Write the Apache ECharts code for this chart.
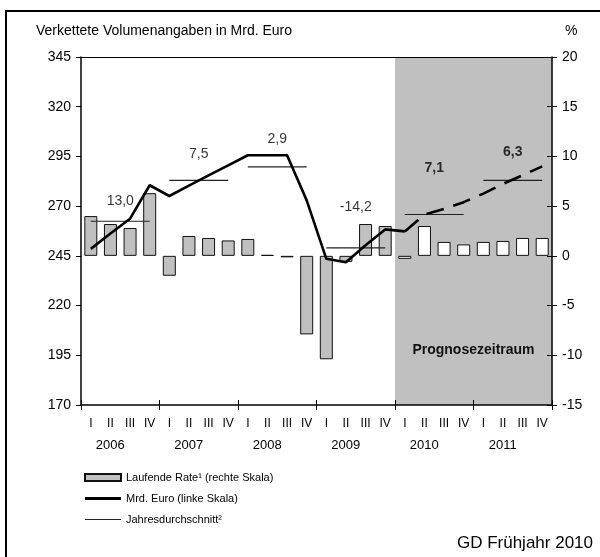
<!DOCTYPE html>
<html>
<head>
<meta charset="utf-8">
<script src="https://cdn.jsdelivr.net/npm/echarts@6/dist/echarts.min.js"></script>
<style>
  html, body { margin: 0; padding: 0; background: #fff; }
  #chart { width: 600px; height: 557px; }
</style>
</head>
<body>
<div id="chart"></div>
<script>
const years = ['2006', '2007', '2008', '2009', '2010', '2011'];
const quarters = ['I', 'II', 'III', 'IV'];
const quarterKeys = years.flatMap((y) => quarters.map((q) => y + ' ' + q));

// Laufende Rate in % (rechte Skala)
const rate = [4.0, 3.2, 2.8, 6.3, -2.0, 2.0, 1.8, 1.55, 1.7, 0.1, -0.15, -7.9,
  -10.4, -0.6, 3.2, 3.0, -0.3, 3.0, 1.4, 1.15, 1.4, 1.5, 1.8, 1.8];
// Mrd. Euro (linke Skala)
const volume = [248.5, 256.2, 263.7, 280.5, 275.1, 280.3, 285.5, 290.5, 295.6, 295.6, 295.6, 272.9,
  243.5, 241.8, 250.3, 258.3, 257.3, 265.8, 268.6, 272.0, 276.3, 281.2, 285.5, 290.0];
// Jahresdurchschnitt (Mrd. Euro) und Veränderung in %
const yearAvg = [262.4, 283.0, 289.7, 249.0, 265.8, 283.0];
const yearGrowth = [13.0, 7.5, 2.9, -14.2, 7.1, 6.3];
const forecastStart = 16; // 2010 I

// Abstand der Prozent-Beschriftung über der Jahreslinie (px)
const growthLift = [20, 26, 28, 41, 46, 28];

const FONT = '"Liberation Sans", Arial, sans-serif';
const chart = echarts.init(document.getElementById('chart'));

const fmt = (v) => v.toFixed(1).replace('.', ',');

const avgSeries = years.map((y, k) => ({
  type: 'line',
  name: 'Jahresdurchschnitt²',
  data: quarterKeys.map((_, i) => (Math.floor(i / 4) === k ? yearAvg[k] : '-')),
  symbol: 'none',
  itemStyle: { color: '#222' },
  lineStyle: { color: '#222', width: 1.2 },
  z: 3,
  silent: true,
}));

const option = {
  animation: false,
  textStyle: { fontFamily: FONT, color: '#000' },
  grid: { left: 81, right: 48, top: 57, bottom: 152 },
  legend: {
    orient: 'vertical',
    left: 79,
    top: 467,
    itemWidth: 36,
    itemHeight: 7,
    itemGap: 10,
    selectedMode: false,
    data: [
      { name: 'Laufende Rate¹ (rechte Skala)', icon: 'rect' },
      { name: 'Mrd. Euro (linke Skala)', icon: 'path://M0,0L36,0L36,3L0,3Z',
        itemStyle: { color: '#000', borderWidth: 0 } },
      { name: 'Jahresdurchschnitt²', icon: 'path://M0,0L36,0L36,1L0,1Z',
        itemStyle: { color: '#222', borderWidth: 0 } },
    ],
    textStyle: { fontSize: 11, color: '#000', fontFamily: FONT },
  },
  xAxis: [
    {
      type: 'category',
      data: quarterKeys,
      position: 'bottom',
      z: 5,
      axisLine: { onZero: false, lineStyle: { color: '#000', width: 1.5 } },
      axisTick: { show: false },
      axisLabel: { interval: 0, fontSize: 12, margin: 13, color: '#000',
        formatter: (v) => v.split(' ')[1] },
    },
    {
      type: 'category',
      data: years,
      position: 'bottom',
      z: 5,
      axisLine: { show: false, onZero: false },
      axisTick: { show: true, length: 5, lineStyle: { color: '#000' } },
      axisLabel: { fontSize: 13, margin: 34, color: '#000', padding: [0, 20, 0, 0] },
    },
    {
      type: 'category',
      data: years,
      position: 'bottom',
      z: 5,
      axisLine: { show: false, onZero: false },
      axisTick: { show: true, inside: true, length: 5, lineStyle: { color: '#000' } },
      axisLabel: { show: false },
    },
    {
      type: 'category',
      data: quarterKeys,
      position: 'top',
      z: 5,
      axisLine: { onZero: false, lineStyle: { color: '#000', width: 1 } },
      axisTick: { show: false },
      axisLabel: { show: false },
    },
  ],
  yAxis: [
    {
      type: 'value', min: 170, max: 345, interval: 25, position: 'left', z: 5,
      axisLine: { show: true, lineStyle: { color: '#000', width: 1.5 } },
      axisTick: { show: true, length: 5, lineStyle: { color: '#000' } },
      splitLine: { show: false },
      axisLabel: { fontSize: 14, margin: 10, color: '#000' },
    },
    {
      type: 'value', min: -15, max: 20, interval: 5, position: 'right', z: 5,
      axisLine: { show: true, lineStyle: { color: '#000', width: 1.5 } },
      axisTick: { show: true, length: 5, lineStyle: { color: '#000' } },
      splitLine: { show: false },
      axisLabel: { fontSize: 14, margin: 10, color: '#000' },
    },
    {
      type: 'value', min: -15, max: 20, interval: 5, position: 'right', z: 5,
      axisLine: { show: false },
      axisTick: { show: true, inside: true, length: 5, lineStyle: { color: '#000' } },
      splitLine: { show: false },
      axisLabel: { show: false },
    },
  ],
  series: [
    {
      type: 'custom',
      name: 'Prognosezeitraum',
      xAxisIndex: 0,
      yAxisIndex: 1,
      silent: true,
      z: 1,
      data: [[forecastStart]],
      renderItem: (params, api) => {
        const cs = params.coordSys;
        const left = api.coord([api.value(0), 0])[0] - api.size([1, 0])[0] / 2;
        const right = cs.x + cs.width;
        return {
          type: 'group',
          children: [
            { type: 'rect', shape: { x: left, y: cs.y, width: right - left, height: cs.height },
              style: { fill: '#c0c0c0' } },
            { type: 'text', x: (left + right) / 2, y: cs.y + cs.height * 0.842,
              style: { text: 'Prognosezeitraum', fontFamily: FONT, fontSize: 14, fontWeight: 'bold',
                fill: '#111', align: 'center', verticalAlign: 'middle' } },
          ],
        };
      },
    },
    {
      type: 'bar',
      name: 'Laufende Rate¹ (rechte Skala)',
      xAxisIndex: 0,
      yAxisIndex: 1,
      barWidth: 13,
      z: 2,
      itemStyle: { color: '#c0c0c0', borderColor: '#111', borderWidth: 1 },
      data: rate.map((v, i) => (i >= forecastStart ? { value: v, itemStyle: { color: '#fff' } } : v)),
    },
    ...avgSeries,
    {
      type: 'line',
      name: 'Mrd. Euro (linke Skala)',
      data: volume.map((v, i) => (i <= forecastStart ? v : '-')),
      symbol: 'none',
      itemStyle: { color: '#000' },
      lineStyle: { color: '#000', width: 2.6 },
      z: 4,
    },
    {
      type: 'line',
      name: 'Mrd. Euro Prognose',
      data: volume.map((v, i) => (i >= forecastStart ? v : '-')),
      symbol: 'none',
      itemStyle: { color: '#000' },
      lineStyle: { color: '#000', width: 2.6, type: [18, 10] },
      z: 4,
    },
    {
      type: 'scatter',
      name: 'Veränderung',
      xAxisIndex: 1,
      yAxisIndex: 0,
      symbolSize: 0,
      silent: true,
      z: 6,
      data: yearAvg.map((v, k) => ({
        value: v,
        label: { distance: growthLift[k] - 7, fontWeight: k >= 4 ? 'bold' : 'normal' },
      })),
      label: {
        show: true, position: 'top', fontSize: 14, color: '#000', fontFamily: FONT,
        formatter: (p) => fmt(yearGrowth[p.dataIndex]),
      },
    },
  ],
  graphic: [
    { type: 'rect', shape: { x: 6, y: 11, width: 640, height: 600 },
      style: { fill: 'none', stroke: '#000', lineWidth: 2 }, silent: true },
    { type: 'text', x: 36, y: 31,
      style: { text: 'Verkettete Volumenangaben in Mrd. Euro', fontFamily: FONT, fontSize: 14,
        fill: '#000', verticalAlign: 'middle' } },
    { type: 'text', x: 565, y: 31,
      style: { text: '%', fontFamily: FONT, fontSize: 14, fill: '#000', verticalAlign: 'middle' } },
    { type: 'text', x: 593, y: 543,
      style: { text: 'GD Frühjahr 2010', fontFamily: FONT, fontSize: 17, fill: '#000',
        align: 'right', verticalAlign: 'middle' } },
  ],
};

chart.setOption(option);
</script>
</body>
</html>
